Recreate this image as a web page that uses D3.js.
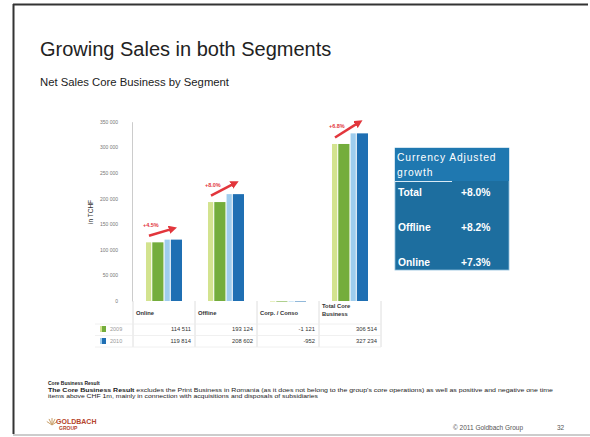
<!DOCTYPE html>
<html>
<head>
<meta charset="utf-8">
<script src="https://cdn.jsdelivr.net/npm/d3@7"></script>
<style>
  body { margin: 0; background: #fff; }
  svg { display: block; font-family: "Liberation Sans", Arial, sans-serif; }
</style>
</head>
<body>
<div class="vis"></div>
<script>
const width = 590, height = 437;

// chart data
const categories = ["Online", "Offline", "Corp. / Conso", "Total Core Business"];
const sales2009 = [114511, 193124, -1121, 306514];
const sales2010 = [119814, 208602, -952, 327234];
const valueLabels2009 = ["114 511", "193 124", "-1 121", "306 514"];
const valueLabels2010 = ["119 814", "208 602", "-952", "327 234"];
const growthLabels = ["+4.5%", "+8.0%", null, "+6.8%"];
const yTicks = [0, 50000, 100000, 150000, 200000, 250000, 300000, 350000];
const boxRows = ["Total", "Offline", "Online"];
const boxValues = ["+8.0%", "+8.2%", "+7.3%"];

const svg = d3.select(".vis").append("svg")
    .attr("width", width)
    .attr("height", height);

const defs = svg.append("defs");
defs.append("marker")
    .attr("id", "head")
    .attr("viewBox", "0 0 10 10")
    .attr("refX", 5).attr("refY", 5)
    .attr("markerWidth", 3.2).attr("markerHeight", 3.2)
    .attr("orient", "auto")
    .append("path")
    .attr("d", "M0,0 L10,5 L0,10 z")
    .attr("fill", "#e2363c");

// slide frame
svg.append("line").attr("x1", 13).attr("x2", 588).attr("y1", 4.5).attr("y2", 4.5)
    .attr("stroke", "#333").attr("stroke-width", 2);
svg.append("line").attr("x1", 13.5).attr("x2", 13.5).attr("y1", 4).attr("y2", 434)
    .attr("stroke", "#333").attr("stroke-width", 2);
svg.append("line").attr("x1", 13).attr("x2", 590).attr("y1", 435).attr("y2", 435)
    .attr("stroke", "#bbb").attr("stroke-width", 1.5);

// titles
svg.append("text").attr("x", 40).attr("y", 56)
    .attr("font-size", 20).attr("fill", "#222")
    .text("Growing Sales in both Segments");
svg.append("text").attr("x", 40).attr("y", 86)
    .attr("font-size", 11.3).attr("fill", "#222")
    .text("Net Sales Core Business by Segment");

// scales
const y = d3.scaleLinear().domain([0, 350000]).range([301, 121.7]);
const x = d3.scaleBand().domain(categories).range([133, 381]).padding(0);
const xYear = d3.scaleBand().domain(["2009", "2010"]).range([-18, 18]).paddingInner(0.06);

// y axis
const yAxis = svg.append("g").attr("transform", "translate(132,0)")
    .call(d3.axisLeft(y).tickValues(yTicks).tickSize(0).tickPadding(14)
        .tickFormat(d => d3.format(",")(d).replace(/,/g, " ")));
yAxis.select(".domain").attr("stroke", "#ccc");
yAxis.selectAll("text").attr("font-size", 5).attr("fill", "#777")
    .attr("font-family", "Liberation Sans, Arial, sans-serif");

svg.append("text")
    .attr("transform", "translate(93,212) rotate(-90)")
    .attr("text-anchor", "middle").attr("font-size", 6.5).attr("fill", "#333")
    .text("in TCHF");

// bars
const series = [
    {year: "2009", values: sales2009, light: "#d3e38f", dark: "#74ad3c"},
    {year: "2010", values: sales2010, light: "#9fcdee", dark: "#1f6fb3"}
];
series.forEach(s => {
    const g = svg.append("g");
    const bw = xYear.bandwidth();
    const bars = g.selectAll("g").data(categories).join("g")
        .attr("transform", d => `translate(${x(d) + x.bandwidth() / 2 + xYear(s.year)},0)`);
    bars.append("rect")
        .attr("x", 0).attr("width", bw * 0.3)
        .attr("y", (d, i) => Math.min(y(s.values[i]), y(0)))
        .attr("height", (d, i) => Math.abs(y(s.values[i]) - y(0)))
        .attr("fill", s.light);
    bars.append("rect")
        .attr("x", bw * 0.36).attr("width", bw * 0.64)
        .attr("y", (d, i) => Math.min(y(s.values[i]), y(0)))
        .attr("height", (d, i) => Math.abs(y(s.values[i]) - y(0)))
        .attr("fill", s.dark);
});

// growth arrows
categories.forEach((c, i) => {
    if (!growthLabels[i]) return;
    const cx = x(c) + x.bandwidth() / 2;
    const x1 = cx - 15, y1 = y(sales2009[i]) - 6.5;
    const x2 = cx + 9, y2 = y(sales2010[i]) - 11;
    svg.append("line")
        .attr("x1", x1).attr("y1", y1).attr("x2", x2).attr("y2", y2)
        .attr("stroke", "#e2363c").attr("stroke-width", 2.6)
        .attr("marker-end", "url(#head)");
    svg.append("text")
        .attr("x", x1 - 6).attr("y", y1 - 9)
        .attr("font-size", 5.5).attr("font-weight", "bold").attr("fill", "#e2363c")
        .text(growthLabels[i]);
});

// data table
const table = svg.append("g");
const gridColor = "#d6d6d6";
[133].concat(categories.map(c => x(c) + x.bandwidth())).forEach(cx => {
    table.append("line").attr("x1", cx).attr("x2", cx).attr("y1", 301).attr("y2", 347)
        .attr("stroke", gridColor).attr("stroke-width", 0.8);
});
[324, 335.5, 347].forEach(ly => {
    table.append("line").attr("x1", 95).attr("x2", x(categories[3]) + x.bandwidth()).attr("y1", ly).attr("y2", ly)
        .attr("stroke", "#ececec").attr("stroke-width", 0.8);
});
table.selectAll("text.head").data(categories).join("text")
    .attr("class", "head")
    .attr("x", d => x(d) + 3)
    .attr("font-size", 5.8).attr("font-weight", "bold").attr("fill", "#333")
    .each(function(d) {
        const t = d3.select(this);
        if (d === "Total Core Business") {
            t.append("tspan").attr("x", x(d) + 3).attr("y", 308).text("Total Core");
            t.append("tspan").attr("x", x(d) + 3).attr("y", 316).text("Business");
        } else {
            t.attr("y", 315).text(d);
        }
    });
const rows = [
    {year: "2009", labels: valueLabels2009, color: "#74ad3c", light: "#d3e38f", cy: 329},
    {year: "2010", labels: valueLabels2010, color: "#1f6fb3", light: "#9fcdee", cy: 341}
];
rows.forEach(r => {
    table.append("rect").attr("x", 100).attr("y", r.cy - 3).attr("width", 2).attr("height", 6).attr("fill", r.light);
    table.append("rect").attr("x", 102).attr("y", r.cy - 3).attr("width", 4).attr("height", 6).attr("fill", r.color);
    table.append("text").attr("x", 110).attr("y", r.cy + 2)
        .attr("font-size", 5.5).attr("fill", "#999").text(r.year);
    table.selectAll(null).data(categories).join("text")
        .attr("x", d => x(d) + x.bandwidth() - 4)
        .attr("y", r.cy + 2)
        .attr("text-anchor", "end")
        .attr("font-size", 5.8).attr("fill", "#333")
        .text((d, i) => r.labels[i]);
});

// currency adjusted growth box
const box = svg.append("g").attr("transform", "translate(395,148)");
box.append("rect").attr("width", 114).attr("height", 122).attr("fill", "#1d6e9f")
    .attr("stroke", "#8fbfdc").attr("stroke-width", 0.8);
box.append("rect").attr("width", 114).attr("height", 33).attr("fill", "#1f78b0");
box.append("line").attr("x1", 0).attr("x2", 57).attr("y1", 33.5).attr("y2", 33.5)
    .attr("stroke", "#d8eaf5").attr("stroke-width", 1);
box.append("text").attr("x", 2).attr("y", 13).attr("font-size", 10.3).attr("fill", "#fff")
    .attr("letter-spacing", 0.9).text("Currency Adjusted");
box.append("text").attr("x", 2).attr("y", 28).attr("font-size", 10.3).attr("fill", "#fff")
    .attr("letter-spacing", 0.9).text("growth");
const rowY = d3.scalePoint().domain(boxRows).range([48, 118]);
box.selectAll("text.rl").data(boxRows).join("text")
    .attr("class", "rl")
    .attr("x", 3).attr("y", d => rowY(d))
    .attr("font-size", 10.3).attr("font-weight", "bold").attr("fill", "#fff")
    .text(d => d);
box.selectAll("text.rv").data(boxValues).join("text")
    .attr("class", "rv")
    .attr("x", 66).attr("y", (d, i) => rowY(boxRows[i]))
    .attr("font-size", 10.3).attr("font-weight", "bold").attr("fill", "#fff")
    .text(d => d);

// footnote
svg.append("text").attr("x", 48).attr("y", 385).attr("font-size", 5).attr("font-weight", "bold")
    .attr("fill", "#222").text("Core Business Result");
svg.append("text").attr("x", 48).attr("y", 391.5).attr("font-size", 5).attr("fill", "#222")
    .attr("textLength", 505).attr("lengthAdjust", "spacingAndGlyphs")
    .html("<tspan font-weight='bold'>The Core Business Result</tspan> excludes the Print Business in Romania (as it does not belong to the group's core operations) as well as positive and negative one time");
svg.append("text").attr("x", 48).attr("y", 398).attr("font-size", 5).attr("fill", "#222")
    .attr("textLength", 270).attr("lengthAdjust", "spacingAndGlyphs")
    .text("items above CHF 1m, mainly in connection with acquisitions and disposals of subsidiaries");

// logo
const logo = svg.append("g").attr("transform", "translate(47,416)");
[-60, -30, 0, 30, 60].forEach(a => {
    logo.append("line")
        .attr("x1", 5).attr("y1", 9)
        .attr("x2", 5 + 6 * Math.sin(a * Math.PI / 180)).attr("y2", 9 - 7 * Math.cos(a * Math.PI / 180))
        .attr("stroke", "#c9a06a").attr("stroke-width", 1);
});
logo.append("text").attr("x", 9).attr("y", 8).attr("font-size", 7).attr("font-weight", "bold")
    .attr("fill", "#b5452b").text("GOLDBACH");
logo.append("text").attr("x", 12).attr("y", 14).attr("font-size", 5).attr("font-weight", "bold")
    .attr("fill", "#b5452b").text("GROUP");

svg.append("text").attr("x", 453).attr("y", 430).attr("font-size", 6.5).attr("fill", "#555")
    .text("© 2011 Goldbach Group");
svg.append("text").attr("x", 557).attr("y", 430).attr("font-size", 6.5).attr("fill", "#555")
    .text("32");
</script>
</body>
</html>
